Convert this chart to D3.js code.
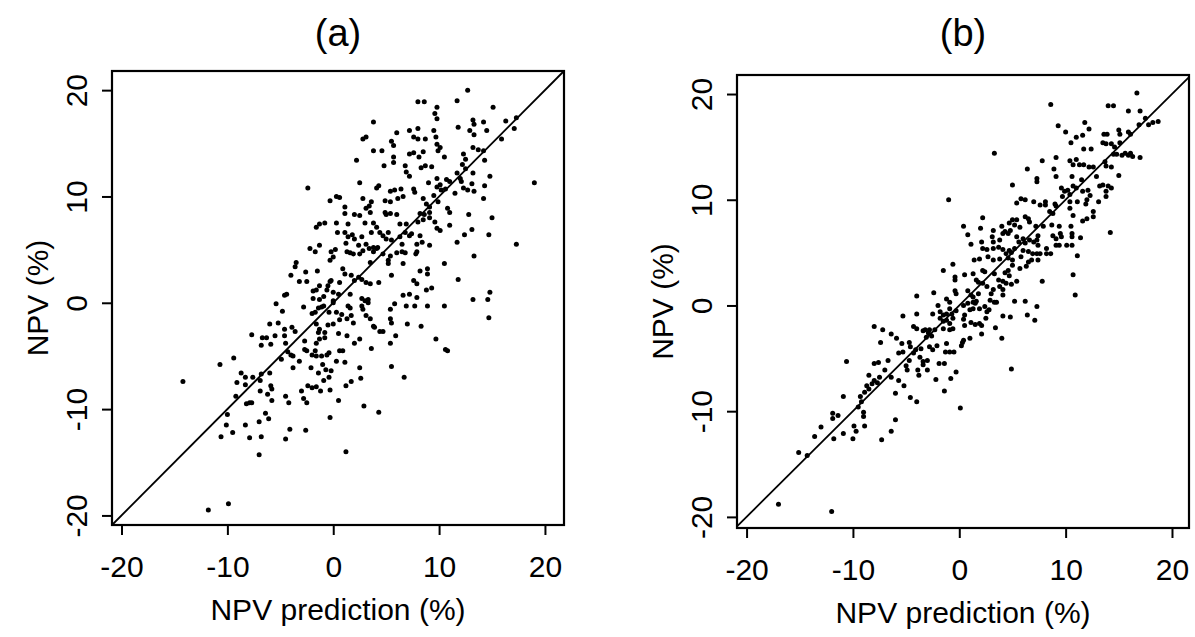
<!DOCTYPE html>
<html>
<head>
<meta charset="utf-8">
<script src="https://cdn.jsdelivr.net/npm/d3@7"></script>
<style>
  body { margin: 0; background: #fff; }
  svg text { font-family: "Liberation Sans", Arial, Helvetica, sans-serif; fill: #000; }
</style>
</head>
<body>
<div id="chart"></div>
<script>
// tick labels and texts
const tickValues = [-20, -10, 0, 10, 20];
const panelTitles = ["(a)", "(b)"];
const xTitle = "NPV prediction (%)";
const yTitle = "NPV (%)";

// panel (a): [NPV prediction, NPV]
const pointsA = [
  [12.7,20.0],[8.0,18.9],[8.6,18.9],[11.7,19.0],[15.1,18.4],[9.8,18.4],[9.6,17.8],[9.8,17.3],[3.8,17.0],
  [13.2,17.2],[14.2,17.0],[16.3,17.1],[17.3,17.4],[17.1,16.4],[13.3,16.8],[11.8,16.5],[12.9,16.2],[14.5,16.2],
  [13.3,15.8],[7.2,16.2],[8.0,16.4],[6.0,16.0],[9.5,16.2],[9.7,15.6],[7.6,15.6],[8.0,15.4],[8.7,15.4],
  [2.8,15.4],[3.1,15.6],[5.5,15.2],[5.7,14.8],[15.9,15.4],[9.8,14.9],[10.1,14.6],[9.9,14.3],[3.8,14.3],
  [4.6,14.3],[7.2,14.0],[7.6,14.1],[8.5,14.2],[12.3,14.0],[13.2,14.6],[13.7,14.4],[14.2,14.3],[5.7,13.7],
  [8.1,13.7],[10.5,13.7],[2.2,13.4],[5.7,13.2],[12.5,13.5],[14.3,13.4],[4.8,12.9],[6.8,12.9],[8.3,12.7],
  [8.7,12.9],[9.3,12.8],[12.2,13.0],[12.5,12.6],[6.9,12.3],[7.2,11.9],[11.7,12.2],[13.2,12.2],[14.8,11.9],
  [9.8,11.7],[10.7,11.6],[9.0,11.3],[10.1,11.1],[11.0,11.4],[12.0,11.7],[12.1,11.4],[2.5,11.3],[4.3,11.0],
  [4.1,10.8],[19.0,11.3],[5.4,10.5],[5.8,10.6],[6.4,10.7],[7.6,10.7],[7.7,10.4],[9.8,10.9],[10.2,10.6],
  [10.6,10.7],[11.5,10.3],[12.3,10.8],[12.7,10.6],[13.1,11.2],[14.3,11.0],[13.3,10.5],[14.2,9.8],[0.3,10.0],
  [0.6,9.9],[2.8,9.8],[3.6,9.5],[3.4,9.1],[4.9,9.6],[5.4,9.5],[6.1,9.8],[6.6,10.0],[8.5,9.8],
  [8.8,9.3],[9.1,9.0],[9.5,10.1],[9.9,9.5],[10.8,8.9],[11.0,8.5],[12.8,8.3],[15.0,8.0],[1.1,9.0],
  [1.1,8.4],[2.0,8.3],[2.5,8.2],[3.1,8.9],[3.5,8.5],[4.9,8.5],[5.0,8.3],[5.4,8.4],[6.0,8.3],
  [8.2,8.4],[8.6,8.3],[9.1,8.5],[9.1,8.0],[8.0,7.6],[8.5,7.8],[9.6,7.6],[9.8,7.0],[10.1,6.8],
  [11.0,7.3],[12.4,6.4],[13.1,6.9],[14.7,6.4],[17.3,5.5],[11.7,5.7],[13.3,4.4],[0.3,7.5],[1.4,7.4],
  [0.4,6.6],[1.1,6.6],[1.4,6.2],[1.2,5.6],[1.8,6.4],[2.0,6.0],[3.0,7.5],[3.8,7.5],[4.1,7.1],
  [3.6,6.6],[2.7,6.2],[2.4,5.4],[2.8,4.9],[3.1,5.5],[3.4,5.1],[3.8,5.2],[4.2,5.2],[4.4,6.6],
  [4.7,6.3],[5.2,6.6],[5.0,6.0],[6.3,7.4],[6.9,7.4],[5.5,5.9],[6.3,6.2],[6.8,6.6],[7.2,6.3],
  [7.4,6.5],[6.5,5.5],[7.9,5.5],[8.4,5.7],[8.2,6.3],[9.1,5.4],[4.7,4.6],[5.4,4.4],[6.0,4.7],
  [6.5,4.8],[6.8,4.7],[7.8,4.6],[7.9,4.8],[1.3,4.8],[1.6,4.7],[1.9,4.6],[2.5,4.6],[3.8,4.8],
  [4.1,5.1],[3.5,3.8],[5.2,4.0],[5.2,3.7],[6.6,3.7],[10.5,3.7],[0.2,5.0],[0.9,3.2],[1.1,2.7],
  [1.7,2.6],[2.4,2.4],[2.0,2.1],[2.7,2.2],[3.1,1.9],[4.3,1.9],[3.5,1.8],[5.5,2.6],[8.2,3.0],
  [8.9,3.2],[8.9,2.7],[7.6,2.1],[7.9,1.8],[11.8,2.2],[0.6,1.9],[-0.2,2.1],[0.0,1.0],[0.5,0.8],
  [1.6,0.8],[2.7,0.4],[3.0,0.2],[3.3,0.3],[7.2,0.8],[8.8,1.2],[9.3,1.4],[6.6,0.7],[7.9,0.5],
  [14.8,1.0],[14.6,0.3],[13.2,0.3],
  [1.4,-0.3],[1.6,-0.5],[2.7,-0.3],[2.8,-0.6],[3.3,0.0],[5.4,-0.6],[5.8,-0.1],[6.9,-0.3],[7.7,-0.3],
  [8.9,-0.3],[10.5,-0.3],[14.7,-1.4],[5.4,-1.5],[5.5,-1.9],[7.0,-2.0],[8.3,-2.2],[5.9,-3.1],[9.7,-3.4],
  [10.6,-4.4],[10.8,-4.5],[5.4,-3.8],[5.5,-6.0],[6.7,-7.0],[3.6,-4.3],[0.3,-0.9],[0.8,-1.1],[0.6,-1.6],
  [1.3,-1.5],[1.7,-1.2],[1.9,-1.9],[3.1,-1.2],[3.5,-1.5],[3.8,-2.2],[3.9,-2.3],[4.4,-2.7],[4.7,-2.7],
  [0.5,-2.9],[1.3,-3.1],[2.0,-3.8],[2.5,-3.4],[0.6,-4.5],[0.9,-4.5],[0.3,-5.5],[1.1,-5.6],[-0.2,-6.4],
  [2.5,-6.1],[2.6,-7.1],[1.2,-7.8],[1.7,-7.4],[-0.3,-8.2],[0.5,-9.2],[2.9,-9.7],[4.3,-10.3],[-0.3,-10.8],
  [1.2,-14.0],
  [-5.4,-0.1],[-4.8,-0.8],[-2.8,-0.4],[-2.0,-1.0],[-1.7,-0.9],[-1.4,-0.5],[-1.1,-0.4],[-0.9,-0.3],[-0.4,-0.9],
  [0.0,0.0],[-6.0,-2.0],[-5.2,-1.9],[-4.6,-2.5],[-3.9,-2.3],[-3.6,-2.7],[-7.7,-3.0],[-6.7,-3.3],[-6.3,-3.3],
  [-5.5,-3.1],[-4.6,-3.1],[-6.8,-4.0],[-5.9,-3.9],[-4.5,-3.8],[-1.6,-2.0],[-1.3,-2.5],[-1.4,-2.8],[-0.8,-2.8],
  [-0.5,-2.1],[0.0,-2.0],[-2.7,-3.6],[-1.6,-3.8],[-1.3,-3.4],[-0.8,-3.3],[-4.3,-4.6],[-4.0,-4.9],[-3.8,-5.0],
  [-3.2,-5.5],[-2.7,-4.4],[-2.5,-4.5],[-4.9,-5.3],[-3.8,-6.1],[-2.0,-4.9],[-1.7,-4.5],[-1.6,-5.0],[-1.1,-5.0],
  [-0.6,-4.9],[-0.4,-4.7],[-2.1,-6.1],[-1.4,-6.6],[-1.0,-5.8],[-0.7,-6.3],[-10.7,-5.8],[-9.4,-5.2],[-14.2,-7.4],
  [-8.7,-6.6],[-8.3,-7.0],[-7.6,-7.0],[-6.8,-6.7],[-6.0,-6.6],[-9.1,-7.5],[-8.3,-7.7],[-6.9,-7.3],[-5.9,-7.8],
  [-5.8,-8.1],[-9.2,-8.8],[-8.2,-9.5],[-7.9,-9.4],[-7.7,-9.4],[-6.9,-8.3],[-6.2,-8.6],[-5.8,-9.2],[-4.5,-8.8],
  [-4.2,-9.4],[-3.0,-8.3],[-2.8,-9.0],[-2.5,-9.4],[-2.4,-7.8],[-2.0,-8.0],[-1.6,-7.9],[-1.2,-8.3],[-0.9,-7.3],
  [-0.4,-7.0],[-10.0,-10.5],[-10.1,-11.5],[-9.5,-12.2],[-10.6,-12.6],[-8.3,-11.5],[-7.9,-12.7],[-7.0,-11.2],[-6.8,-12.6],
  [-7.0,-14.3],[-6.4,-10.4],[-6.1,-10.9],[-4.5,-12.8],[-4.1,-11.9],[-2.6,-12.0],[-9.9,-18.9],[-11.8,-19.5],
  [-2.4,10.8],[-0.3,9.6],[-1.6,7.1],[-1.3,7.4],[-0.8,7.5],[-2.2,5.1],[-1.7,4.8],[-1.3,5.4],[-0.2,4.8],
  [-0.3,4.0],[0.0,4.3],[-3.5,3.8],[-3.6,3.4],[-2.6,2.9],[-1.5,3.0],[-4.0,2.6],[-3.2,2.0],[-4.4,0.8],
  [-4.6,0.7],[-2.5,2.0],[-1.9,1.1],[-1.6,1.2],[-1.3,1.6],[-0.6,1.2],[-0.5,1.6],[-0.3,2.0],[-1.9,0.4],
  [-1.3,0.3],[-0.9,0.6],[0.0,0.2]
];

// panel (b): [NPV prediction, NPV]
const pointsB = [
  [16.7,20.1],[8.6,19.0],[14.0,18.9],[14.5,18.9],[15.9,18.4],[17.0,18.4],[17.5,17.7],[16.9,17.1],[17.8,17.1],
  [18.2,17.3],[18.7,17.4],[11.8,17.3],[12.2,16.7],[9.3,17.0],[10.0,16.4],[13.6,16.2],[13.9,16.2],[15.0,16.6],
  [15.1,16.2],[15.9,16.4],[16.1,16.2],[11.0,15.9],[11.6,16.1],[10.5,15.4],[13.5,15.4],[13.8,15.3],[14.3,15.3],
  [14.6,15.0],[15.1,15.4],[11.7,14.8],[12.4,14.8],[3.3,14.4],[14.5,14.3],[14.8,14.3],[15.3,14.2],[15.6,14.4],
  [15.9,14.2],[16.1,14.4],[16.3,14.1],[17.0,14.0],[10.4,13.7],[11.0,13.8],[9.1,14.0],[7.8,13.7],[10.7,13.3],
  [11.3,13.3],[11.7,13.3],[12.2,13.1],[12.6,13.1],[13.7,13.6],[13.8,13.2],[14.3,13.1],[15.0,12.3],[6.4,12.9],
  [8.9,12.9],[9.1,12.2],[7.3,12.0],[7.3,11.7],[5.0,11.4],[10.6,12.2],[11.5,11.9],[12.9,12.2],[9.6,11.1],
  [9.9,10.8],[10.2,10.9],[10.7,11.3],[11.0,11.1],[11.6,10.8],[12.1,10.9],[9.7,10.3],[10.4,10.5],[13.2,11.3],
  [13.5,11.4],[14.0,11.3],[14.3,11.1],[13.8,10.8],[13.8,10.3],[-1.0,10.0],[5.8,10.1],[6.2,10.0],[5.4,9.7],
  [7.0,9.8],[7.6,9.5],[8.1,9.8],[8.1,9.5],[9.0,9.6],[9.1,9.4],[10.4,9.8],[10.4,9.2],[11.1,9.8],
  [11.9,9.6],[12.0,10.0],[12.3,10.4],[13.1,9.8],[8.5,8.9],[8.8,8.7],[10.7,8.5],[12.6,8.9],[12.6,8.4],
  [11.6,8.0],[12.0,8.2],[2.2,8.3],[5.0,8.1],[4.7,7.8],[5.4,8.1],[6.2,8.4],[6.5,8.2],[6.6,7.9],
  [7.2,7.5],[7.9,7.5],[8.7,7.6],[9.4,7.5],[10.5,7.5],[0.4,7.5],[2.0,7.3],[3.2,7.1],[4.0,7.5],
  [4.3,7.0],[4.8,7.1],[5.2,7.6],[5.7,7.4],[14.2,6.9],[0.8,6.7],[1.1,5.8],[2.1,6.0],[3.1,6.5],
  [3.2,6.0],[3.8,6.2],[4.1,6.8],[4.6,6.8],[5.4,6.5],[5.6,6.0],[6.0,6.3],[6.2,5.9],[6.6,6.2],
  [7.0,6.0],[7.4,6.6],[7.3,6.2],[7.4,5.7],[8.8,6.6],[9.1,6.3],[9.5,6.8],[9.6,6.5],[9.4,5.7],
  [10.1,5.7],[10.6,5.7],[10.6,6.5],[10.6,6.8],[11.4,6.4],[8.2,5.4],[9.1,5.7],[11.1,4.7],[2.2,5.4],
  [2.6,5.3],[3.2,5.4],[3.7,5.5],[4.1,5.3],[4.7,5.2],[4.9,5.0],[5.2,5.4],[4.4,4.9],[6.0,5.2],
  [6.5,5.1],[6.9,4.9],[7.3,4.9],[7.6,4.9],[8.2,4.9],[8.6,4.9],[1.4,4.3],[1.9,4.4],[2.7,4.6],
  [3.2,4.3],[3.8,4.4],[4.6,4.5],[5.0,4.3],[5.8,4.6],[6.5,4.1],[6.8,4.3],[7.4,4.3],[5.7,3.5],
  [6.3,3.7],[5.0,3.8],[-0.6,3.9],[-1.5,3.3],[-0.4,2.7],[-0.4,2.4],[0.5,2.9],[1.3,3.0],[1.6,2.4],
  [2.2,3.3],[2.4,3.2],[3.3,3.0],[3.7,2.4],[4.3,3.1],[4.6,3.3],[4.7,2.8],[5.4,2.3],[4.1,2.3],
  [4.4,2.1],[4.9,2.0],[10.7,2.9],[7.8,2.3],[1.8,2.2],[2.2,2.1],[2.6,1.8],[3.2,1.5],[3.8,1.8],
  [4.1,1.5],[3.0,1.1],[10.9,1.0],[-0.4,1.4],[-0.3,1.1],[0.8,1.4],[1.1,1.0],[1.3,0.8],[1.8,1.1],
  [1.5,0.2],[-1.2,0.6],[-0.9,0.3],[3.3,0.3],[5.2,0.4],[6.2,0.4],[4.1,1.0],
  [0.4,0.0],[0.8,0.2],[1.3,0.3],[1.6,0.4],[2.9,0.5],[3.5,0.3],[7.3,-0.1],[-0.7,-0.8],[-0.3,-0.5],
  [-0.6,-1.2],[-0.6,-2.2],[-0.9,-2.3],[0.5,-0.9],[0.4,-1.3],[0.5,-1.9],[1.1,-1.6],[1.5,-1.8],[1.9,-1.7],
  [2.1,-1.9],[1.3,-0.3],[1.0,-0.4],[1.9,-0.3],[2.4,-0.1],[2.6,-0.6],[2.8,-0.4],[2.5,-1.2],[4.1,-1.0],
  [4.8,-1.1],[6.4,-0.9],[7.1,-1.4],[3.4,-2.1],[4.0,-3.1],[2.1,-2.7],[1.0,-3.1],[0.3,-3.5],[0.2,-3.8],
  [0.4,-3.3],[-0.9,-4.4],[-0.5,-4.4],[4.9,-6.0],[-0.3,-6.3],[-0.8,-6.9],[0.1,-9.7],
  [-4.0,0.9],[-2.4,1.2],
  [-2.0,0.0],[-2.5,-0.8],[-1.8,-0.6],[-1.5,-0.9],[-1.2,-0.8],[-1.2,-1.4],[-1.5,-1.5],[-1.8,-1.2],[-0.9,-1.7],
  [-0.9,-0.3],[-5.3,-1.0],[-4.0,-0.8],[-4.3,-2.0],[-4.0,-2.2],[-3.4,-2.4],[-3.2,-2.3],[-2.9,-2.6],[-2.8,-2.3],
  [-2.3,-2.3],[-1.5,-2.2],[-8.0,-2.0],[-7.2,-2.3],[-6.4,-2.7],[-5.9,-3.1],[-7.4,-3.5],[-5.4,-3.6],[-5.3,-4.4],
  [-5.7,-4.5],[-4.7,-3.5],[-4.6,-3.9],[-4.3,-4.5],[-3.6,-4.1],[-4.1,-4.2],[-3.1,-3.0],[-2.6,-2.9],[-2.8,-3.9],
  [-2.5,-4.2],[-2.1,-3.8],[-3.7,-4.9],[-3.4,-5.3],[-3.0,-5.2],[-3.4,-5.6],[-4.7,-5.2],[-5.0,-5.7],[-4.9,-6.1],
  [-3.9,-6.1],[-3.8,-6.6],[-3.0,-6.1],[-1.9,-5.5],[-1.4,-5.5],[-1.3,-4.4],[-1.2,-3.6],[-2.2,-7.0],[-1.4,-8.1],
  [-7.6,-5.4],[-8.0,-5.5],[-8.5,-6.6],[-6.7,-5.2],[-7.0,-6.1],[-7.5,-6.8],[-8.0,-7.1],[-6.4,-6.8],[-5.7,-7.1],
  [-8.2,-7.4],[-7.7,-7.3],[-5.2,-7.6],[-6.0,-8.3],[-8.7,-7.6],[-8.5,-7.9],[-8.9,-8.2],[-4.6,-8.7],[-4.0,-9.1],
  [-9.3,-8.6],[-9.2,-9.1],[-9.5,-9.6],[-9.0,-10.1],[-9.0,-10.5],[-9.9,-11.4],[-9.7,-11.9],[-10.0,-12.6],[-10.9,-12.1],
  [-8.9,-11.4],[-10.9,-8.6],[-11.9,-10.2],[-11.9,-10.7],[-11.4,-10.4],[-10.6,-5.3],[-11.8,-12.6],[-13.0,-11.5],[-13.6,-12.4],
  [-14.3,-14.2],[-15.1,-13.9],[-7.3,-12.7],[-6.4,-11.9],[-6.0,-10.8],[-17.0,-18.8],[-12.0,-19.5]
];

const width = 1195, height = 637;

const svg = d3.select("#chart").append("svg")
  .attr("width", width)
  .attr("height", height)
  .style("background", "#fff");

// one panel: box, 1:1 line, points, axes and labels
function drawPanel(cfg) {
  const x = d3.scaleLinear().domain(cfg.xDomain).range([cfg.left, cfg.right]);
  const y = d3.scaleLinear().domain(cfg.yDomain).range([cfg.bottom, cfg.top]);

  const g = svg.append("g");

  // 45 degree reference line, clipped to the box
  const lo = Math.max(cfg.xDomain[0], cfg.yDomain[0]);
  const hi = Math.min(cfg.xDomain[1], cfg.yDomain[1]);
  g.append("line")
    .attr("x1", x(lo)).attr("y1", y(lo))
    .attr("x2", x(hi)).attr("y2", y(hi))
    .attr("stroke", "#000")
    .attr("stroke-width", 1.8);

  g.selectAll(".dot")
    .data(cfg.points)
    .enter().append("circle")
    .attr("class", "dot")
    .attr("cx", d => x(d[0]))
    .attr("cy", d => y(d[1]))
    .attr("r", 2.5)
    .attr("fill", "#000");

  g.append("rect")
    .attr("x", cfg.left).attr("y", cfg.top)
    .attr("width", cfg.right - cfg.left)
    .attr("height", cfg.bottom - cfg.top)
    .attr("fill", "none")
    .attr("stroke", "#000")
    .attr("stroke-width", 2.2);

  // plain hyphen for negative labels, as in the original
  const fmt = d => String(d);

  // x axis
  const xAxisGroup = g.append("g")
    .attr("transform", "translate(0," + cfg.bottom + ")")
    .call(d3.axisBottom(x).tickValues(tickValues).tickSize(10).tickPadding(21).tickFormat(fmt));
  xAxisGroup.select(".domain").remove();
  xAxisGroup.selectAll("line").attr("stroke", "#000").attr("stroke-width", 2);
  xAxisGroup.selectAll("text")
    .style("font-size", "30px")
    .attr("fill", "#000");

  // y axis, labels turned to run along the axis
  const yAxisGroup = g.append("g")
    .attr("transform", "translate(" + cfg.left + ",0)")
    .call(d3.axisLeft(y).tickValues(tickValues).tickSize(10).tickFormat(fmt));
  yAxisGroup.select(".domain").remove();
  yAxisGroup.selectAll("line").attr("stroke", "#000").attr("stroke-width", 2);
  yAxisGroup.selectAll("text")
    .attr("x", null).attr("dy", null)
    .attr("text-anchor", "middle")
    .attr("transform", "translate(-25,0) rotate(-90)")
    .style("font-size", "30px")
    .attr("fill", "#000");

  // titles
  g.append("text")
    .attr("x", (cfg.left + cfg.right) / 2)
    .attr("y", 46)
    .attr("text-anchor", "middle")
    .style("font-size", "38px")
    .text(cfg.title);

  g.append("text")
    .attr("x", (cfg.left + cfg.right) / 2)
    .attr("y", cfg.bottom + 95)
    .attr("text-anchor", "middle")
    .style("font-size", "30px")
    .text(xTitle);

  g.append("text")
    .attr("transform", "translate(" + (cfg.left - 64) + "," + ((cfg.top + cfg.bottom) / 2) + ") rotate(-90)")
    .attr("text-anchor", "middle")
    .style("font-size", "30px")
    .text(yTitle);
}

drawPanel({
  title: panelTitles[0], points: pointsA,
  left: 112, right: 564, top: 71, bottom: 525,
  xDomain: [-20.9, 21.8], yDomain: [-20.9, 21.8]
});

drawPanel({
  title: panelTitles[1], points: pointsB,
  left: 737, right: 1189, top: 75, bottom: 528,
  xDomain: [-20.9, 21.6], yDomain: [-21.05, 21.8]
});
</script>
</body>
</html>
